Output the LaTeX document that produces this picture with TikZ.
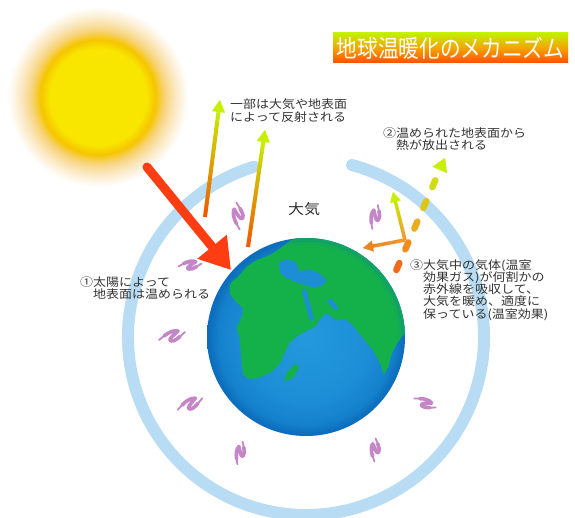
\documentclass[tikz,border=0pt]{standalone}
\usepackage{fontspec}
\newfontfamily\jp[FakeStretch=1.12]{Noto Sans CJK JP}
\newfontfamily\jptitle[FakeStretch=0.86]{Noto Sans CJK JP}
\usetikzlibrary{arrows.meta,calc}

\definecolor{txt}{HTML}{333333}
\definecolor{ringblue}{HTML}{B8DCF3}
\definecolor{landgreen}{HTML}{14B14A}
\definecolor{squigcol}{HTML}{C486C6}
\definecolor{hotred}{HTML}{FF3D12}
\definecolor{warm}{HTML}{F05A00}
\definecolor{cool}{HTML}{C8EE00}
\definecolor{amber}{HTML}{F0962A}
\definecolor{amberdeep}{HTML}{EE8420}
\definecolor{sunA}{HTML}{F8E500}
\definecolor{sunB}{HTML}{F6C500}
\definecolor{sunC}{HTML}{F7D47C}
\definecolor{sunD}{HTML}{FBE9C4}
\definecolor{seaA}{HTML}{2499DD}
\definecolor{seaB}{HTML}{1C8ED6}
\definecolor{seaC}{HTML}{1581CC}
\definecolor{seaD}{HTML}{0C6DBD}
\definecolor{titletop}{HTML}{C4F000}
\definecolor{titlemid}{HTML}{F4A400}
\definecolor{titlebot}{HTML}{FF5000}
\definecolor{dashA}{HTML}{F26A18}
\definecolor{dashB}{HTML}{F08C1C}
\definecolor{dashC}{HTML}{EAAE1C}
\definecolor{dashD}{HTML}{DEC618}
\definecolor{dashE}{HTML}{D0DC10}

% glowing sun and shaded ocean (25bp = edge of the shaded circle)
\pgfdeclareradialshading{sunglow}{\pgfpoint{0bp}{0bp}}{color(0bp)=(sunA); color(13.5bp)=(sunA); color(16bp)=(sunB); color(18.5bp)=(sunC); color(21.5bp)=(sunD); color(25bp)=(white); color(50bp)=(white)}
\pgfdeclareradialshading{earthsea}{\pgfpoint{0bp}{0bp}}{color(0bp)=(seaA); color(16bp)=(seaB); color(22bp)=(seaC); color(25bp)=(seaD); color(50bp)=(seaD)}

\tikzset{
  lbl/.style={font=\jp\fontsize{11.6}{12.3}\selectfont, text=txt, align=left, inner sep=0pt, anchor=north west},
  titlebox/.style={top color=titletop, bottom color=titlebot, middle color=titlemid,
    minimum width=235pt, minimum height=30pt, inner sep=0pt, text=white,
    font=\jptitle\fontsize{24}{24}\selectfont},
  squig/.pic={
    \draw[squigcol, line width=1.8pt, line cap=round] (-13,4) .. controls (-11,2) .. (-8,0);
    \draw[squigcol, line width=3.6pt, line cap=round, line join=round]
      (-8,0) .. controls (-3,-4) and (2,-6) .. (6,-5)
      .. controls (2,-1) and (-5,4) .. (-1,5)
      .. controls (2,5.5) and (5,3) .. (8,0.5);
    \draw[squigcol, line width=1.8pt, line cap=round] (8,0.5) .. controls (10,-1) .. (13,-4);
  }
}

% shaft drawn in short pieces whose colour runs from #5 to #6, then a head
\newcommand\gradarrow[8]{%
  \foreach \k in {0,...,15}{
    \pgfmathsetmacro\fa{#3*\k/16}
    \pgfmathsetmacro\fb{#3*(\k+1)/16+0.004}
    \pgfmathtruncatemacro\mix{100*\k/15}
    \draw[line width=#4, color=#6!\mix!#5] ($(#1)!\fa!(#2)$) -- ($(#1)!\fb!(#2)$);
  }
  \draw[color=#6, line width=0.1pt, -{Triangle[length=#7, width=#8]}] ($(#1)!#3!(#2)$) -- (#2);
}

\begin{document}
\begin{tikzpicture}[x=1pt, y=-1pt]
\useasboundingbox (0,0) rectangle (575,518);
\fill[white] (0,0) rectangle (575,518);

\coordinate (sun) at (98,97);
\coordinate (earth) at (306,337);

% sun
\shade[shading=sunglow] (sun) circle[radius=90];

% atmosphere ring with an opening at the top
\draw[ringblue, line width=12pt, line cap=round]
  ($(earth)+(-75:178)$) arc[start angle=-75, end angle=253, radius=178];

% earth
\shade[shading=earthsea] (earth) circle[radius=99];
\begin{scope}
  \clip (earth) circle[radius=99];
  \begin{scope}[shift={(200,220)}, x=0.33333pt, y=-0.33333pt]
    \fill[landgreen] (88,200) -- (95,185) -- (115,170) -- (140,140) -- (170,120) -- (210,105)
      -- (240,85) -- (270,62) -- (300,50) -- (340,50) -- (380,58) -- (430,68) -- (480,88)
      -- (530,128) -- (575,185) -- (605,250) -- (622,330) -- (605,352) -- (590,372)
      -- (575,400) -- (565,440) -- (552,464) -- (540,430) -- (520,392) -- (495,362)
      -- (475,337) -- (455,312) -- (432,296) -- (410,302) -- (395,290) -- (378,278)
      -- (358,300) -- (346,320) -- (320,332) -- (295,346) -- (270,366) -- (255,396)
      -- (240,430) -- (215,456) -- (180,472) -- (150,478) -- (130,465) -- (125,430)
      -- (122,390) -- (118,352) -- (110,322) -- (125,292) -- (130,266) -- (105,242)
      -- (90,222) -- cycle;
    \fill[landgreen] (262,455) -- (285,432) -- (298,440) -- (278,476) -- (252,484) -- cycle;
    \fill[seaB] (235,128) -- (262,118) -- (288,127) -- (298,154) -- (330,148) -- (358,160)
      -- (380,180) -- (366,198) -- (338,202) -- (310,194) -- (282,184) -- (258,174)
      -- (242,160) -- cycle;
    \fill[seaB] (305,212) -- (318,206) -- (342,298) -- (330,304) -- cycle;
    \fill[seaB] (380,242) -- (394,236) -- (416,264) -- (405,271) -- cycle;
  \end{scope}
  \draw[seaD, opacity=0.22, line width=4pt] (earth) circle[radius=97.5];
  \draw[seaD, opacity=0.08, line width=4pt] (earth) circle[radius=94];
\end{scope}

% warm air swirls
\pic[rotate=80]  at (238,216) {squig};
\pic[rotate=60, scale=0.9] at (375,217) {squig};
\pic[rotate=-10, scale=0.85]  at (190,265) {squig};
\pic at (172,336) {squig};
\pic[rotate=8] at (190,404) {squig};
\pic[rotate=60, scale=0.85] at (240,453) {squig};
\pic[rotate=70, scale=0.85]  at (375,450) {squig};
\pic[rotate=-40, scale=0.85]  at (425,403) {squig};

% sunlight reaching the ground
\coordinate (rayS) at (147,167);
\coordinate (rayE) at (231,270);
\draw[hotred, line width=9pt, line cap=round, -{Triangle[length=30pt, width=36pt]}] (rayS) -- (rayE);

% light sent back to space
\coordinate (r1s) at (205,217);
\coordinate (r1t) at (220,100);
\coordinate (r2s) at (248,247);
\coordinate (r2t) at (265,130);
\gradarrow{r1s}{r1t}{0.93}{4pt}{warm}{cool}{12pt}{13pt}
\gradarrow{r2s}{r2t}{0.93}{4pt}{warm}{cool}{12pt}{13pt}

% heat leaving the surface
\coordinate (ds) at (395,273);
\coordinate (dt) at (445,158);
\foreach \s/\c in {0.026/dashA, 0.206/dashB, 0.386/dashC, 0.566/dashD, 0.746/dashE}{
  \pgfmathsetmacro\e{\s+0.06}
  \draw[line width=6.5pt, line cap=round, color=\c] ($(ds)!\s!(dt)$) -- ($(ds)!\e!(dt)$);
}
\draw[cool, line width=0.1pt, -{Triangle[length=13pt, width=16pt]}] ($(ds)!0.88!(dt)$) -- (dt);

% heat taken up by the air and sent back
\coordinate (j) at (405,240);
\coordinate (jup) at (393,192);
\coordinate (jleft) at (363,248);
\gradarrow{j}{jup}{0.86}{3.5pt}{amber}{cool}{10pt}{11pt}
\gradarrow{j}{jleft}{0.84}{3.5pt}{amber}{amberdeep}{10pt}{11pt}

% labels
\node[lbl] (refl) at (230,99) {一部は大気や地表面\\によって反射される};
\node[lbl] (heat) at (383,127) {②温められた地表面から\\\phantom{②}熱が放出される};
\node[lbl, font=\jp\fontsize{14.3}{15}\selectfont] (atm) at (288,202) {大気};
\node[lbl] (warmed) at (80,276) {①太陽によって\\\phantom{①}地表面は温められる};
\node[lbl] (ghg) at (410,259) {③大気中の気体(温室\\\phantom{③}効果ガス)が何割かの\\\phantom{③}赤外線を吸収して、\\\phantom{③}大気を暖め、適度に\\\phantom{③}保っている(温室効果)};

% title
\node[titlebox] (title) at (450.5,48) {地球温暖化のメカニズム};
\end{tikzpicture}
\end{document}
